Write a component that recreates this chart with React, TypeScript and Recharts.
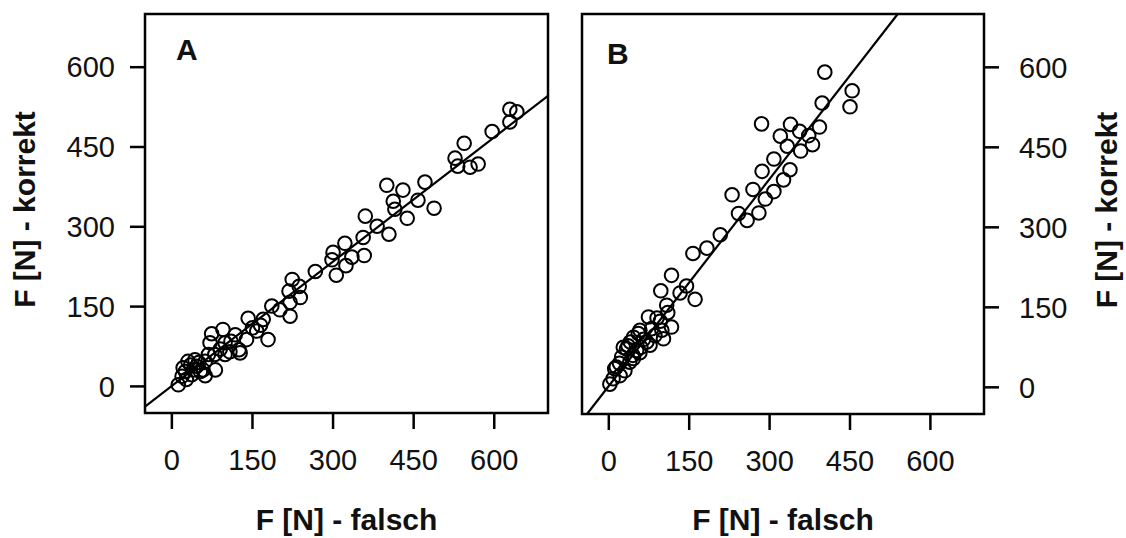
import { Label, ReferenceArea, ReferenceLine, Scatter, ScatterChart, XAxis, YAxis } from "recharts";

const DOMAIN: [number, number] = [-50, 700];
const TICKS = [0, 150, 300, 450, 600];
const X_TITLE = "F [N] - falsch";
const Y_TITLE = "F [N] - korrekt";
const FONT = "'Liberation Sans', Arial, sans-serif";

// Panel A: falsch (x) vs korrekt (y)
const aFalsch = [
  629, 642, 629, 596, 544, 527, 532, 555, 570, 471, 400, 430, 412, 458, 488, 415, 438, 404, 382, 360,
  356, 358, 322, 300, 324, 306, 335, 298, 267, 224, 218, 237, 239, 220, 201, 220, 186, 142, 170, 158,
  179, 139, 118, 95, 74, 71, 99, 125, 99, 68, 46, 81, 30, 25, 37, 12, 19, 58, 21, 53,
  43, 62, 127, 40, 27, 62, 108, 35, 50, 80, 90, 110, 150, 165,
];
const aKorrekt = [
  521, 516, 497, 479, 457, 429, 414, 412, 418, 384, 378, 369, 348, 350, 335, 333, 316, 286, 301, 320,
  280, 246, 269, 252, 227, 209, 243, 238, 216, 201, 179, 188, 167, 158, 144, 132, 151, 128, 126, 104,
  88, 88, 97, 107, 99, 82, 82, 69, 60, 60, 38, 31, 47, 28, 22, 3, 19, 31, 35, 28,
  50, 20, 63, 31, 13, 47, 65, 40, 45, 60, 70, 85, 110, 115,
];

// Panel B
const bFalsch = [
  403, 454, 450, 398, 285, 339, 393, 320, 356, 373, 380, 358, 333, 308, 286, 338, 326, 308, 292, 269,
  230, 280, 258, 242, 208, 183, 157, 117, 97, 133, 145, 161, 108, 74, 96, 117, 99, 58, 71, 102,
  46, 33, 52, 46, 24, 14, 8, 2, 30, 27, 11, 55, 39, 58, 77, 21, 86, 36, 20, 45, 65, 80,
  90, 110, 40, 60,
];
const bKorrekt = [
  591, 556, 526, 533, 494, 493, 488, 471, 480, 472, 455, 443, 452, 428, 405, 408, 389, 367, 353, 371,
  361, 327, 313, 326, 286, 261, 251, 210, 181, 177, 190, 165, 154, 132, 124, 113, 107, 107, 85, 91,
  94, 72, 69, 54, 57, 38, 16, 6, 31, 75, 35, 101, 47, 65, 79, 22, 97, 78, 45, 60, 90, 110,
  130, 140, 85, 75,
];

const FIT_A = { slope: 0.779, intercept: 1 };
const FIT_B = { slope: 1.294, intercept: 2.5 };

type Fit = { slope: number; intercept: number };

function toRows(xs: number[], ys: number[]) {
  return xs.map((x, i) => ({ x, y: ys[i] }));
}

// endpoints of the fitted line, cut to the plotted square
function fitSegment(fit: Fit) {
  const [lo, hi] = DOMAIN;
  const xa = (lo - fit.intercept) / fit.slope;
  const xb = (hi - fit.intercept) / fit.slope;
  const x1 = Math.max(lo, Math.min(xa, xb));
  const x2 = Math.min(hi, Math.max(xa, xb));
  return [
    { x: x1, y: fit.intercept + fit.slope * x1 },
    { x: x2, y: fit.intercept + fit.slope * x2 },
  ];
}

const OpenCircle = (props: any) => (
  <circle cx={props.cx} cy={props.cy} r={6.8} fill="none" stroke="#000" strokeWidth={2} />
);

const tickStyle = { fill: "#111", fontSize: 29, fontFamily: FONT };
const tickLine = { stroke: "#000", strokeWidth: 2.5 };

type PanelProps = {
  xs: number[];
  ys: number[];
  fit: Fit;
  letter: string;
  letterDx: number;
  letterDy: number;
  side: "left" | "right";
};

function Panel({ xs, ys, fit, letter, letterDx, letterDy, side }: PanelProps) {
  const left = side === "left";
  const width = left ? 560 : 566;
  const margin = left
    ? { top: 14, right: 12, left: 0, bottom: 0 }
    : { top: 14, right: 0, left: 22, bottom: 0 };

  return (
    <ScatterChart width={width} height={538} margin={margin}>
      <XAxis
        type="number"
        dataKey="x"
        domain={DOMAIN}
        ticks={TICKS}
        allowDataOverflow
        height={left ? 125 : 124}
        axisLine={false}
        tickLine={tickLine}
        tickSize={16}
        tickMargin={20}
        tick={tickStyle}
      >
        <Label
          content={(p: any) => {
            const vb = p.viewBox || {};
            return (
              <text
                x={vb.x + vb.width / 2}
                y={530}
                textAnchor="middle"
                fontFamily={FONT}
                fontWeight="bold"
                fontSize={30}
                fill="#111"
              >
                {X_TITLE}
              </text>
            );
          }}
        />
      </XAxis>
      <YAxis
        type="number"
        dataKey="y"
        orientation={side}
        domain={DOMAIN}
        ticks={TICKS}
        allowDataOverflow
        width={left ? 145 : 142}
        axisLine={false}
        tickLine={tickLine}
        tickSize={15}
        tickMargin={left ? 15 : 20}
        tick={tickStyle}
      >
        <Label
          content={(p: any) => {
            const vb = p.viewBox || {};
            const cx = left ? 35 : 557;
            const cy = vb.y + vb.height / 2 - 4;
            return (
              <text
                x={cx}
                y={cy}
                transform={`rotate(-90 ${cx} ${cy})`}
                textAnchor="middle"
                fontFamily={FONT}
                fontWeight="bold"
                fontSize={30}
                fill="#111"
              >
                {Y_TITLE}
              </text>
            );
          }}
        />
      </YAxis>
      <ReferenceArea
        x1={DOMAIN[0]}
        x2={DOMAIN[1]}
        y1={DOMAIN[0]}
        y2={DOMAIN[1]}
        fill="none"
        stroke="#000"
        strokeWidth={2.5}
        ifOverflow="visible"
        label={(p: any) => {
          const vb = p.viewBox || {};
          return (
            <text
              x={vb.x + letterDx}
              y={vb.y + letterDy}
              fontFamily={FONT}
              fontWeight="bold"
              fontSize={30}
              fill="#111"
            >
              {letter}
            </text>
          );
        }}
      />
      <ReferenceLine
        segment={fitSegment(fit)}
        stroke="#000"
        strokeWidth={2.2}
        ifOverflow="hidden"
      />
      <Scatter data={toRows(xs, ys)} shape={OpenCircle} isAnimationActive={false} />
    </ScatterChart>
  );
}

export default function App() {
  return (
    <div
      style={{
        position: "absolute",
        left: 0,
        top: 0,
        width: 1126,
        height: 538,
        background: "#fff",
        display: "flex",
      }}
    >
      <Panel xs={aFalsch} ys={aKorrekt} fit={FIT_A} letter="A" letterDx={31} letterDy={46} side="left" />
      <Panel xs={bFalsch} ys={bKorrekt} fit={FIT_B} letter="B" letterDx={25} letterDy={50} side="right" />
    </div>
  );
}
